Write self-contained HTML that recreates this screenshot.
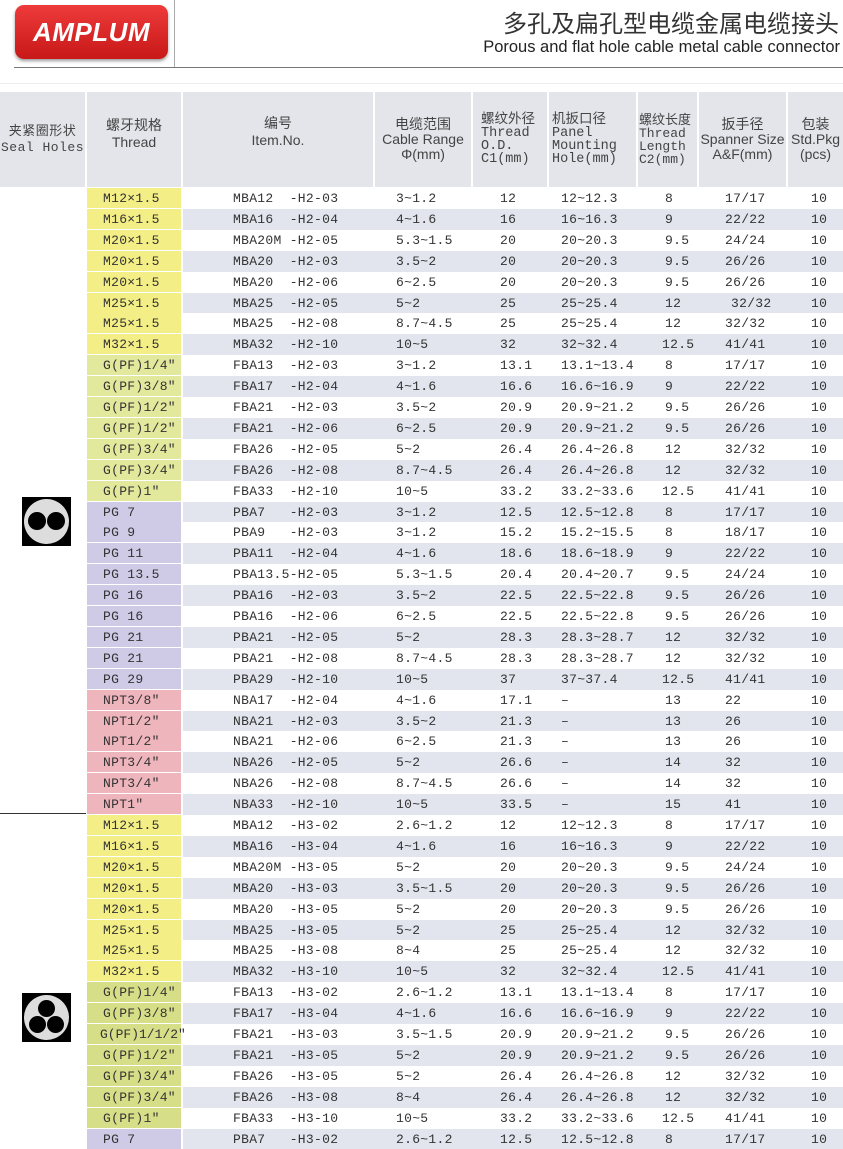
<!DOCTYPE html>
<html><head><meta charset="utf-8">
<style>
*{margin:0;padding:0;box-sizing:border-box}
body{width:843px;height:1144px;overflow:hidden;background:#fff;position:relative;font-family:"Liberation Sans","Noto Sans CJK SC",sans-serif;color:#333}
.logo{position:absolute;left:15px;top:5px;width:153px;height:54px;border-radius:9px;background:linear-gradient(#ee3a3a,#c81818);box-shadow:0 2px 3px #999;color:#fff;font:italic bold 26px "Liberation Sans",sans-serif;text-align:center;line-height:54px;letter-spacing:0.5px}
.vl{position:absolute;left:174px;top:0;width:1px;height:67px;background:#aaa}
.hl{position:absolute;left:14px;top:67px;width:829px;height:1px;background:#777}
.hl2{position:absolute;left:0;top:83px;width:843px;height:1px;background:#eee}
.t1{position:absolute;right:4px;top:6px;font:24px "Noto Sans CJK SC",sans-serif;color:#333;line-height:32px}
.t2{position:absolute;right:3px;top:38px;font:16.5px "Liberation Sans",sans-serif;color:#222}
.hd{position:absolute;top:92px;height:95px;background:#e3e5ea;text-align:center;font-size:14px;line-height:15px;color:#444;display:flex;flex-direction:column;justify-content:center}
.hd .m{font-family:"Liberation Mono","Noto Sans CJK SC",monospace;font-size:13.5px;text-align:left}
.r{position:absolute;left:0;width:843px;height:20.9px;font:13px "Liberation Mono",monospace;letter-spacing:0.3px;white-space:pre;color:#333}
.r.g .bg{position:absolute;left:183px;right:0;top:0;bottom:0;background:#e2e5ee}
.r span{position:absolute;top:3px}
.th{position:absolute;left:87px;width:94px;top:0;height:20px;padding-left:16px;padding-top:3px}
.M{background:#f3ee86}.G{background:#e2e99c}.G2{background:#d6df88}.P{background:#cfcae6}.N{background:#efb5bd}
.icon{position:absolute;left:22px;width:49px;height:49px;background:#000}
.icon .c{position:absolute;left:2px;top:2px;width:45px;height:45px;border-radius:50%;background:#ddd}
.icon .h{position:absolute;background:#000;border-radius:50%}
</style></head><body>
<div class="logo">AMPLUM</div>
<div class="vl"></div><div class="hl"></div><div class="hl2"></div>
<div class="t1">多孔及扁孔型电缆金属电缆接头</div>
<div class="t2">Porous and flat hole cable metal cable connector</div>

<div class="hd" style="left:0;width:85px"><div class="m" style="text-align:center;font-size:13px;line-height:16px;letter-spacing:0.5px">夹紧圈形状<br>Seal Holes</div></div>
<div class="hd" style="left:87px;width:94px"><div style="padding-bottom:12px;line-height:17px">螺牙规格<br>Thread</div></div>
<div class="hd" style="left:183px;width:190px"><div style="padding-bottom:16px;line-height:17px">编号<br>Item.No.</div></div>
<div class="hd" style="left:375px;width:96px"><div>电缆范围<br>Cable Range<br>Φ(mm)</div></div>
<div class="hd" style="left:473px;width:74px"><div class="m" style="padding-left:8px;line-height:13px">螺纹外径<br>Thread<br> O.D.<br> C1(mm)</div></div>
<div class="hd" style="left:549px;width:87px"><div class="m" style="padding-left:3px;line-height:13px">机扳口径<br>Panel<br>Mounting<br>Hole(mm)</div></div>
<div class="hd" style="left:638px;width:59px"><div class="m" style="padding-left:1px;line-height:13px;font-size:13px">螺纹长度<br>Thread<br>Length<br>C2(mm)</div></div>
<div class="hd" style="left:699px;width:87px"><div>扳手径<br>Spanner Size<br>A&amp;F(mm)</div></div>
<div class="hd" style="left:788px;width:55px"><div>包装<br>Std.Pkg<br>(pcs)</div></div>

<div class="icon" style="top:497px"><div class="c"></div><div class="h" style="left:6px;top:15px;width:18px;height:18px"></div><div class="h" style="left:25px;top:15px;width:18px;height:18px"></div></div>
<div class="icon" style="top:993px"><div class="c"></div><div class="h" style="left:16px;top:7px;width:17px;height:17px"></div><div class="h" style="left:7px;top:23px;width:17px;height:17px"></div><div class="h" style="left:25px;top:23px;width:17px;height:17px"></div></div>
<div style="position:absolute;left:0;top:813px;width:86px;height:1px;background:#333"></div>

<div class="r" style="top:188px"><div class="bg"></div><div class="th M">M12×1.5</div><span style="left:233px">MBA12  -H2-03</span><span style="left:396px">3~1.2</span><span style="left:500px">12</span><span style="left:561px">12~12.3</span><span style="left:665px">8</span><span style="left:725px">17/17</span><span style="left:811px">10</span></div>
<div class="r g" style="top:208.9px"><div class="bg"></div><div class="th M">M16×1.5</div><span style="left:233px">MBA16  -H2-04</span><span style="left:396px">4~1.6</span><span style="left:500px">16</span><span style="left:561px">16~16.3</span><span style="left:665px">9</span><span style="left:725px">22/22</span><span style="left:811px">10</span></div>
<div class="r" style="top:229.8px"><div class="bg"></div><div class="th M">M20×1.5</div><span style="left:233px">MBA20M -H2-05</span><span style="left:396px">5.3~1.5</span><span style="left:500px">20</span><span style="left:561px">20~20.3</span><span style="left:665px">9.5</span><span style="left:725px">24/24</span><span style="left:811px">10</span></div>
<div class="r g" style="top:250.7px"><div class="bg"></div><div class="th M">M20×1.5</div><span style="left:233px">MBA20  -H2-03</span><span style="left:396px">3.5~2</span><span style="left:500px">20</span><span style="left:561px">20~20.3</span><span style="left:665px">9.5</span><span style="left:725px">26/26</span><span style="left:811px">10</span></div>
<div class="r" style="top:271.6px"><div class="bg"></div><div class="th M">M20×1.5</div><span style="left:233px">MBA20  -H2-06</span><span style="left:396px">6~2.5</span><span style="left:500px">20</span><span style="left:561px">20~20.3</span><span style="left:665px">9.5</span><span style="left:725px">26/26</span><span style="left:811px">10</span></div>
<div class="r g" style="top:292.5px"><div class="bg"></div><div class="th M">M25×1.5</div><span style="left:233px">MBA25  -H2-05</span><span style="left:396px">5~2</span><span style="left:500px">25</span><span style="left:561px">25~25.4</span><span style="left:665px">12</span><span style="left:731px">32/32</span><span style="left:811px">10</span></div>
<div class="r" style="top:313.4px"><div class="bg"></div><div class="th M">M25×1.5</div><span style="left:233px">MBA25  -H2-08</span><span style="left:396px">8.7~4.5</span><span style="left:500px">25</span><span style="left:561px">25~25.4</span><span style="left:665px">12</span><span style="left:725px">32/32</span><span style="left:811px">10</span></div>
<div class="r g" style="top:334.3px"><div class="bg"></div><div class="th M">M32×1.5</div><span style="left:233px">MBA32  -H2-10</span><span style="left:396px">10~5</span><span style="left:500px">32</span><span style="left:561px">32~32.4</span><span style="left:662px">12.5</span><span style="left:725px">41/41</span><span style="left:811px">10</span></div>
<div class="r" style="top:355.2px"><div class="bg"></div><div class="th G">G(PF)1/4″</div><span style="left:233px">FBA13  -H2-03</span><span style="left:396px">3~1.2</span><span style="left:500px">13.1</span><span style="left:561px">13.1~13.4</span><span style="left:665px">8</span><span style="left:725px">17/17</span><span style="left:811px">10</span></div>
<div class="r g" style="top:376.1px"><div class="bg"></div><div class="th G">G(PF)3/8″</div><span style="left:233px">FBA17  -H2-04</span><span style="left:396px">4~1.6</span><span style="left:500px">16.6</span><span style="left:561px">16.6~16.9</span><span style="left:665px">9</span><span style="left:725px">22/22</span><span style="left:811px">10</span></div>
<div class="r" style="top:397px"><div class="bg"></div><div class="th G">G(PF)1/2″</div><span style="left:233px">FBA21  -H2-03</span><span style="left:396px">3.5~2</span><span style="left:500px">20.9</span><span style="left:561px">20.9~21.2</span><span style="left:665px">9.5</span><span style="left:725px">26/26</span><span style="left:811px">10</span></div>
<div class="r g" style="top:417.9px"><div class="bg"></div><div class="th G">G(PF)1/2″</div><span style="left:233px">FBA21  -H2-06</span><span style="left:396px">6~2.5</span><span style="left:500px">20.9</span><span style="left:561px">20.9~21.2</span><span style="left:665px">9.5</span><span style="left:725px">26/26</span><span style="left:811px">10</span></div>
<div class="r" style="top:438.8px"><div class="bg"></div><div class="th G">G(PF)3/4″</div><span style="left:233px">FBA26  -H2-05</span><span style="left:396px">5~2</span><span style="left:500px">26.4</span><span style="left:561px">26.4~26.8</span><span style="left:665px">12</span><span style="left:725px">32/32</span><span style="left:811px">10</span></div>
<div class="r g" style="top:459.7px"><div class="bg"></div><div class="th G">G(PF)3/4″</div><span style="left:233px">FBA26  -H2-08</span><span style="left:396px">8.7~4.5</span><span style="left:500px">26.4</span><span style="left:561px">26.4~26.8</span><span style="left:665px">12</span><span style="left:725px">32/32</span><span style="left:811px">10</span></div>
<div class="r" style="top:480.6px"><div class="bg"></div><div class="th G">G(PF)1″</div><span style="left:233px">FBA33  -H2-10</span><span style="left:396px">10~5</span><span style="left:500px">33.2</span><span style="left:561px">33.2~33.6</span><span style="left:662px">12.5</span><span style="left:725px">41/41</span><span style="left:811px">10</span></div>
<div class="r g" style="top:501.5px"><div class="bg"></div><div class="th P">PG 7</div><span style="left:233px">PBA7   -H2-03</span><span style="left:396px">3~1.2</span><span style="left:500px">12.5</span><span style="left:561px">12.5~12.8</span><span style="left:665px">8</span><span style="left:725px">17/17</span><span style="left:811px">10</span></div>
<div class="r" style="top:522.4px"><div class="bg"></div><div class="th P">PG 9</div><span style="left:233px">PBA9   -H2-03</span><span style="left:396px">3~1.2</span><span style="left:500px">15.2</span><span style="left:561px">15.2~15.5</span><span style="left:665px">8</span><span style="left:725px">18/17</span><span style="left:811px">10</span></div>
<div class="r g" style="top:543.3px"><div class="bg"></div><div class="th P">PG 11</div><span style="left:233px">PBA11  -H2-04</span><span style="left:396px">4~1.6</span><span style="left:500px">18.6</span><span style="left:561px">18.6~18.9</span><span style="left:665px">9</span><span style="left:725px">22/22</span><span style="left:811px">10</span></div>
<div class="r" style="top:564.2px"><div class="bg"></div><div class="th P">PG 13.5</div><span style="left:233px">PBA13.5-H2-05</span><span style="left:396px">5.3~1.5</span><span style="left:500px">20.4</span><span style="left:561px">20.4~20.7</span><span style="left:665px">9.5</span><span style="left:725px">24/24</span><span style="left:811px">10</span></div>
<div class="r g" style="top:585.1px"><div class="bg"></div><div class="th P">PG 16</div><span style="left:233px">PBA16  -H2-03</span><span style="left:396px">3.5~2</span><span style="left:500px">22.5</span><span style="left:561px">22.5~22.8</span><span style="left:665px">9.5</span><span style="left:725px">26/26</span><span style="left:811px">10</span></div>
<div class="r" style="top:606px"><div class="bg"></div><div class="th P">PG 16</div><span style="left:233px">PBA16  -H2-06</span><span style="left:396px">6~2.5</span><span style="left:500px">22.5</span><span style="left:561px">22.5~22.8</span><span style="left:665px">9.5</span><span style="left:725px">26/26</span><span style="left:811px">10</span></div>
<div class="r g" style="top:626.9px"><div class="bg"></div><div class="th P">PG 21</div><span style="left:233px">PBA21  -H2-05</span><span style="left:396px">5~2</span><span style="left:500px">28.3</span><span style="left:561px">28.3~28.7</span><span style="left:665px">12</span><span style="left:725px">32/32</span><span style="left:811px">10</span></div>
<div class="r" style="top:647.8px"><div class="bg"></div><div class="th P">PG 21</div><span style="left:233px">PBA21  -H2-08</span><span style="left:396px">8.7~4.5</span><span style="left:500px">28.3</span><span style="left:561px">28.3~28.7</span><span style="left:665px">12</span><span style="left:725px">32/32</span><span style="left:811px">10</span></div>
<div class="r g" style="top:668.7px"><div class="bg"></div><div class="th P">PG 29</div><span style="left:233px">PBA29  -H2-10</span><span style="left:396px">10~5</span><span style="left:500px">37</span><span style="left:561px">37~37.4</span><span style="left:662px">12.5</span><span style="left:725px">41/41</span><span style="left:811px">10</span></div>
<div class="r" style="top:689.6px"><div class="bg"></div><div class="th N">NPT3/8″</div><span style="left:233px">NBA17  -H2-04</span><span style="left:396px">4~1.6</span><span style="left:500px">17.1</span><span style="left:561px">–</span><span style="left:665px">13</span><span style="left:725px">22</span><span style="left:811px">10</span></div>
<div class="r g" style="top:710.5px"><div class="bg"></div><div class="th N">NPT1/2″</div><span style="left:233px">NBA21  -H2-03</span><span style="left:396px">3.5~2</span><span style="left:500px">21.3</span><span style="left:561px">–</span><span style="left:665px">13</span><span style="left:725px">26</span><span style="left:811px">10</span></div>
<div class="r" style="top:731.4px"><div class="bg"></div><div class="th N">NPT1/2″</div><span style="left:233px">NBA21  -H2-06</span><span style="left:396px">6~2.5</span><span style="left:500px">21.3</span><span style="left:561px">–</span><span style="left:665px">13</span><span style="left:725px">26</span><span style="left:811px">10</span></div>
<div class="r g" style="top:752.3px"><div class="bg"></div><div class="th N">NPT3/4″</div><span style="left:233px">NBA26  -H2-05</span><span style="left:396px">5~2</span><span style="left:500px">26.6</span><span style="left:561px">–</span><span style="left:665px">14</span><span style="left:725px">32</span><span style="left:811px">10</span></div>
<div class="r" style="top:773.2px"><div class="bg"></div><div class="th N">NPT3/4″</div><span style="left:233px">NBA26  -H2-08</span><span style="left:396px">8.7~4.5</span><span style="left:500px">26.6</span><span style="left:561px">–</span><span style="left:665px">14</span><span style="left:725px">32</span><span style="left:811px">10</span></div>
<div class="r g" style="top:794.1px"><div class="bg"></div><div class="th N">NPT1″</div><span style="left:233px">NBA33  -H2-10</span><span style="left:396px">10~5</span><span style="left:500px">33.5</span><span style="left:561px">–</span><span style="left:665px">15</span><span style="left:725px">41</span><span style="left:811px">10</span></div>

<div class="r" style="top:815px"><div class="bg"></div><div class="th M">M12×1.5</div><span style="left:233px">MBA12  -H3-02</span><span style="left:396px">2.6~1.2</span><span style="left:500px">12</span><span style="left:561px">12~12.3</span><span style="left:665px">8</span><span style="left:725px">17/17</span><span style="left:811px">10</span></div>
<div class="r g" style="top:835.9px"><div class="bg"></div><div class="th M">M16×1.5</div><span style="left:233px">MBA16  -H3-04</span><span style="left:396px">4~1.6</span><span style="left:500px">16</span><span style="left:561px">16~16.3</span><span style="left:665px">9</span><span style="left:725px">22/22</span><span style="left:811px">10</span></div>
<div class="r" style="top:856.8px"><div class="bg"></div><div class="th M">M20×1.5</div><span style="left:233px">MBA20M -H3-05</span><span style="left:396px">5~2</span><span style="left:500px">20</span><span style="left:561px">20~20.3</span><span style="left:665px">9.5</span><span style="left:725px">24/24</span><span style="left:811px">10</span></div>
<div class="r g" style="top:877.7px"><div class="bg"></div><div class="th M">M20×1.5</div><span style="left:233px">MBA20  -H3-03</span><span style="left:396px">3.5~1.5</span><span style="left:500px">20</span><span style="left:561px">20~20.3</span><span style="left:665px">9.5</span><span style="left:725px">26/26</span><span style="left:811px">10</span></div>
<div class="r" style="top:898.6px"><div class="bg"></div><div class="th M">M20×1.5</div><span style="left:233px">MBA20  -H3-05</span><span style="left:396px">5~2</span><span style="left:500px">20</span><span style="left:561px">20~20.3</span><span style="left:665px">9.5</span><span style="left:725px">26/26</span><span style="left:811px">10</span></div>
<div class="r g" style="top:919.5px"><div class="bg"></div><div class="th M">M25×1.5</div><span style="left:233px">MBA25  -H3-05</span><span style="left:396px">5~2</span><span style="left:500px">25</span><span style="left:561px">25~25.4</span><span style="left:665px">12</span><span style="left:725px">32/32</span><span style="left:811px">10</span></div>
<div class="r" style="top:940.4px"><div class="bg"></div><div class="th M">M25×1.5</div><span style="left:233px">MBA25  -H3-08</span><span style="left:396px">8~4</span><span style="left:500px">25</span><span style="left:561px">25~25.4</span><span style="left:665px">12</span><span style="left:725px">32/32</span><span style="left:811px">10</span></div>
<div class="r g" style="top:961.3px"><div class="bg"></div><div class="th M">M32×1.5</div><span style="left:233px">MBA32  -H3-10</span><span style="left:396px">10~5</span><span style="left:500px">32</span><span style="left:561px">32~32.4</span><span style="left:662px">12.5</span><span style="left:725px">41/41</span><span style="left:811px">10</span></div>
<div class="r" style="top:982.2px"><div class="bg"></div><div class="th G2">G(PF)1/4″</div><span style="left:233px">FBA13  -H3-02</span><span style="left:396px">2.6~1.2</span><span style="left:500px">13.1</span><span style="left:561px">13.1~13.4</span><span style="left:665px">8</span><span style="left:725px">17/17</span><span style="left:811px">10</span></div>
<div class="r g" style="top:1003.1px"><div class="bg"></div><div class="th G2">G(PF)3/8″</div><span style="left:233px">FBA17  -H3-04</span><span style="left:396px">4~1.6</span><span style="left:500px">16.6</span><span style="left:561px">16.6~16.9</span><span style="left:665px">9</span><span style="left:725px">22/22</span><span style="left:811px">10</span></div>
<div class="r" style="top:1024px"><div class="bg"></div><div class="th G2" style="padding-left:13px;letter-spacing:0">G(PF)1/1/2″</div><span style="left:233px">FBA21  -H3-03</span><span style="left:396px">3.5~1.5</span><span style="left:500px">20.9</span><span style="left:561px">20.9~21.2</span><span style="left:665px">9.5</span><span style="left:725px">26/26</span><span style="left:811px">10</span></div>
<div class="r g" style="top:1044.9px"><div class="bg"></div><div class="th G2">G(PF)1/2″</div><span style="left:233px">FBA21  -H3-05</span><span style="left:396px">5~2</span><span style="left:500px">20.9</span><span style="left:561px">20.9~21.2</span><span style="left:665px">9.5</span><span style="left:725px">26/26</span><span style="left:811px">10</span></div>
<div class="r" style="top:1065.8px"><div class="bg"></div><div class="th G2">G(PF)3/4″</div><span style="left:233px">FBA26  -H3-05</span><span style="left:396px">5~2</span><span style="left:500px">26.4</span><span style="left:561px">26.4~26.8</span><span style="left:665px">12</span><span style="left:725px">32/32</span><span style="left:811px">10</span></div>
<div class="r g" style="top:1086.7px"><div class="bg"></div><div class="th G2">G(PF)3/4″</div><span style="left:233px">FBA26  -H3-08</span><span style="left:396px">8~4</span><span style="left:500px">26.4</span><span style="left:561px">26.4~26.8</span><span style="left:665px">12</span><span style="left:725px">32/32</span><span style="left:811px">10</span></div>
<div class="r" style="top:1107.6px"><div class="bg"></div><div class="th G2">G(PF)1″</div><span style="left:233px">FBA33  -H3-10</span><span style="left:396px">10~5</span><span style="left:500px">33.2</span><span style="left:561px">33.2~33.6</span><span style="left:662px">12.5</span><span style="left:725px">41/41</span><span style="left:811px">10</span></div>
<div class="r g" style="top:1128.5px"><div class="bg"></div><div class="th P">PG 7</div><span style="left:233px">PBA7   -H3-02</span><span style="left:396px">2.6~1.2</span><span style="left:500px">12.5</span><span style="left:561px">12.5~12.8</span><span style="left:665px">8</span><span style="left:725px">17/17</span><span style="left:811px">10</span></div>
</body></html>
